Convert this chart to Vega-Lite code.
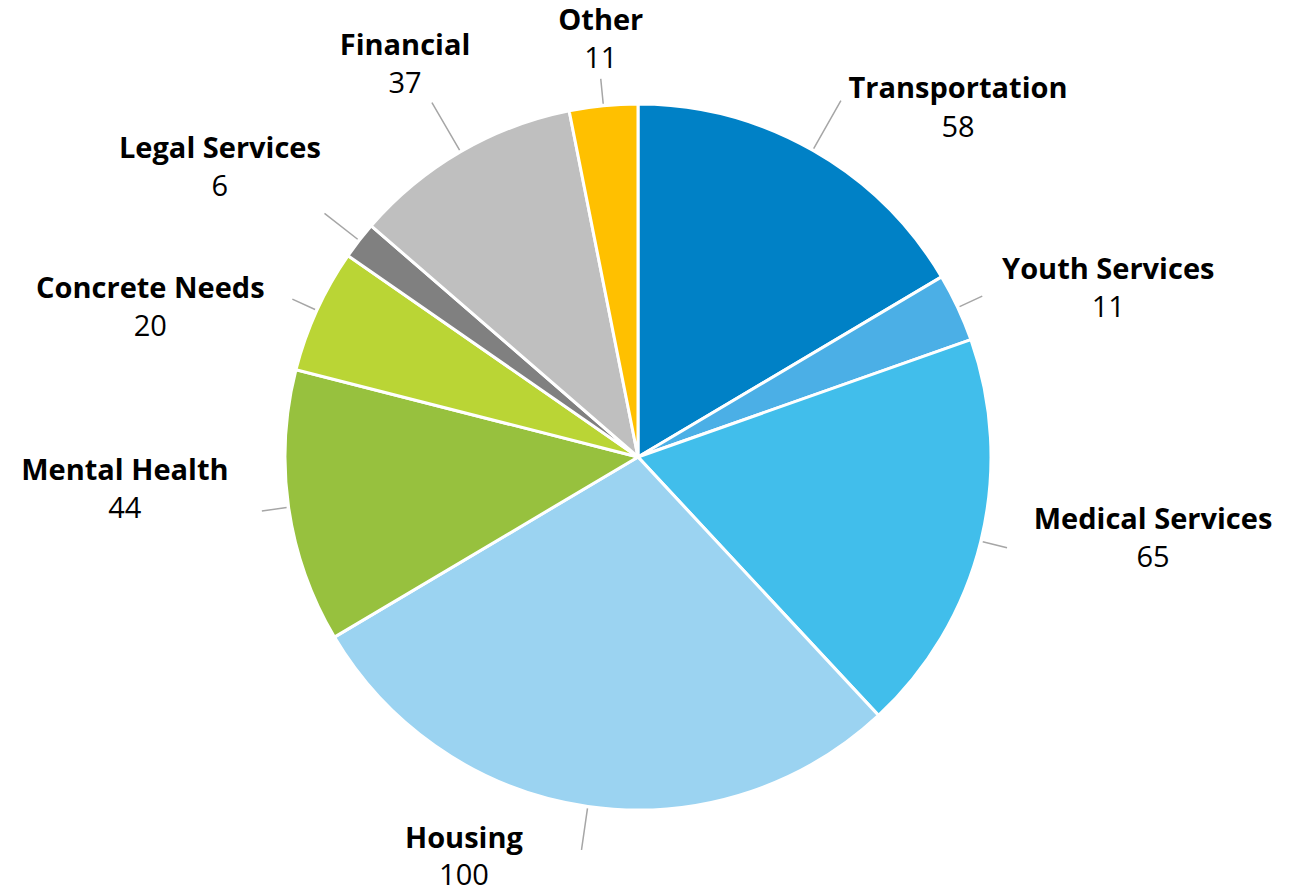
{
  "$schema": "https://vega.github.io/schema/vega-lite/v6.json",
  "width": 1276,
  "height": 872,
  "autosize": {"type": "none"},
  "padding": {"left": 0, "right": 18, "top": 21, "bottom": 0},
  "background": "white",
  "config": {"view": {"stroke": null}, "text": {"font": "Open Sans", "fontSize": 29, "fill": "black"}},
  "data": {
    "values": [
      {"category": "Transportation", "value": 58, "order": 1},
      {"category": "Youth Services", "value": 11, "order": 2},
      {"category": "Medical Services", "value": 65, "order": 3},
      {"category": "Housing", "value": 100, "order": 4},
      {"category": "Mental Health", "value": 44, "order": 5},
      {"category": "Concrete Needs", "value": 20, "order": 6},
      {"category": "Legal Services", "value": 6, "order": 7},
      {"category": "Financial", "value": 37, "order": 8},
      {"category": "Other", "value": 11, "order": 9}
    ]
  },
  "encoding": {
    "theta": {"field": "value", "type": "quantitative", "stack": true},
    "order": {"field": "order", "type": "quantitative", "sort": "ascending"}
  },
  "layer": [
    {
      "mark": {"type": "arc", "outerRadius": 353, "stroke": "white", "strokeWidth": 3},
      "encoding": {
        "color": {
          "field": "category",
          "type": "nominal",
          "legend": null,
          "scale": {
            "domain": ["Transportation", "Youth Services", "Medical Services", "Housing", "Mental Health", "Concrete Needs", "Legal Services", "Financial", "Other"],
            "range": ["#0081C6", "#4BAFE6", "#41BEEB", "#9BD3F1", "#97C13E", "#BAD535", "#808080", "#BFBFBF", "#FFC000"]
          }
        }
      }
    },
    {
      "mark": {"type": "arc", "innerRadius": 355, "outerRadius": 380, "padAngle": 1.4, "fill": "transparent", "stroke": "#A6A6A6", "strokeWidth": 1.5},
      "encoding": {"strokeOpacity": {"condition": {"test": "indexof(['Youth Services','Medical Services','Concrete Needs','Other','Mental Health'], datum.category) >= 0", "value": 1}, "value": 0}}
    },
    {
      "mark": {"type": "arc", "innerRadius": 355, "outerRadius": 397, "padAngle": 1.4, "fill": "transparent", "stroke": "#A6A6A6", "strokeWidth": 1.5},
      "encoding": {"strokeOpacity": {"condition": {"test": "indexof(['Housing','Legal Services'], datum.category) >= 0", "value": 1}, "value": 0}}
    },
    {
      "mark": {"type": "arc", "innerRadius": 355, "outerRadius": 410, "padAngle": 1.4, "fill": "transparent", "stroke": "#A6A6A6", "strokeWidth": 1.5},
      "encoding": {"strokeOpacity": {"condition": {"test": "indexof(['Transportation','Financial'], datum.category) >= 0", "value": 1}, "value": 0}}
    },
    {"mark": {"type": "text", "radius": 380, "dx": 132, "dy": -38, "fontWeight": "bold"},
     "encoding": {"text": {"condition": {"test": "datum.category === 'Transportation'", "field": "category", "type": "nominal"}, "value": ""}}},
    {"mark": {"type": "text", "radius": 380, "dx": 132, "dy": 1},
     "encoding": {"text": {"condition": {"test": "datum.category === 'Transportation'", "field": "value", "type": "quantitative"}, "value": ""}}},

    {"mark": {"type": "text", "radius": 380, "dx": 126, "dy": -26, "fontWeight": "bold"},
     "encoding": {"text": {"condition": {"test": "datum.category === 'Youth Services'", "field": "category", "type": "nominal"}, "value": ""}}},
    {"mark": {"type": "text", "radius": 380, "dx": 126, "dy": 12},
     "encoding": {"text": {"condition": {"test": "datum.category === 'Youth Services'", "field": "value", "type": "quantitative"}, "value": ""}}},

    {"mark": {"type": "text", "radius": 380, "dx": 146, "dy": -28, "fontWeight": "bold"},
     "encoding": {"text": {"condition": {"test": "datum.category === 'Medical Services'", "field": "category", "type": "nominal"}, "value": ""}}},
    {"mark": {"type": "text", "radius": 380, "dx": 146, "dy": 10},
     "encoding": {"text": {"condition": {"test": "datum.category === 'Medical Services'", "field": "value", "type": "quantitative"}, "value": ""}}},

    {"mark": {"type": "text", "radius": 380, "dx": -120, "dy": 6, "fontWeight": "bold"},
     "encoding": {"text": {"condition": {"test": "datum.category === 'Housing'", "field": "category", "type": "nominal"}, "value": ""}}},
    {"mark": {"type": "text", "radius": 380, "dx": -120, "dy": 43},
     "encoding": {"text": {"condition": {"test": "datum.category === 'Housing'", "field": "value", "type": "quantitative"}, "value": ""}}},

    {"mark": {"type": "text", "radius": 380, "dx": -137, "dy": -40, "fontWeight": "bold"},
     "encoding": {"text": {"condition": {"test": "datum.category === 'Mental Health'", "field": "category", "type": "nominal"}, "value": ""}}},
    {"mark": {"type": "text", "radius": 380, "dx": -137, "dy": -2},
     "encoding": {"text": {"condition": {"test": "datum.category === 'Mental Health'", "field": "value", "type": "quantitative"}, "value": ""}}},

    {"mark": {"type": "text", "radius": 380, "dx": -142, "dy": -10, "fontWeight": "bold"},
     "encoding": {"text": {"condition": {"test": "datum.category === 'Concrete Needs'", "field": "category", "type": "nominal"}, "value": ""}}},
    {"mark": {"type": "text", "radius": 380, "dx": -142, "dy": 28},
     "encoding": {"text": {"condition": {"test": "datum.category === 'Concrete Needs'", "field": "value", "type": "quantitative"}, "value": ""}}},

    {"mark": {"type": "text", "radius": 380, "dx": -118, "dy": -75, "fontWeight": "bold"},
     "encoding": {"text": {"condition": {"test": "datum.category === 'Legal Services'", "field": "category", "type": "nominal"}, "value": ""}}},
    {"mark": {"type": "text", "radius": 380, "dx": -118, "dy": -37},
     "encoding": {"text": {"condition": {"test": "datum.category === 'Legal Services'", "field": "value", "type": "quantitative"}, "value": ""}}},

    {"mark": {"type": "text", "radius": 380, "dx": -42, "dy": -82, "fontWeight": "bold"},
     "encoding": {"text": {"condition": {"test": "datum.category === 'Financial'", "field": "category", "type": "nominal"}, "value": ""}}},
    {"mark": {"type": "text", "radius": 380, "dx": -42, "dy": -44},
     "encoding": {"text": {"condition": {"test": "datum.category === 'Financial'", "field": "value", "type": "quantitative"}, "value": ""}}},

    {"mark": {"type": "text", "radius": 380, "dx": 0, "dy": -58, "fontWeight": "bold"},
     "encoding": {"text": {"condition": {"test": "datum.category === 'Other'", "field": "category", "type": "nominal"}, "value": ""}}},
    {"mark": {"type": "text", "radius": 380, "dx": 0, "dy": -20},
     "encoding": {"text": {"condition": {"test": "datum.category === 'Other'", "field": "value", "type": "quantitative"}, "value": ""}}}
  ]
}
